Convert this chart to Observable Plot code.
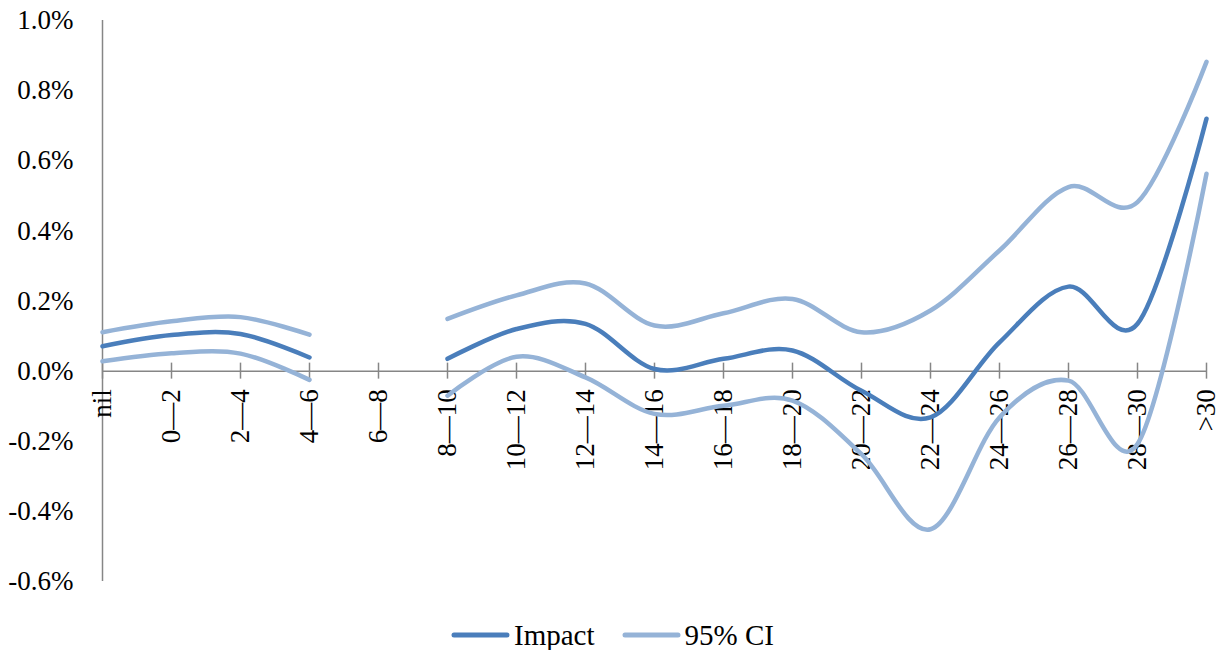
<!DOCTYPE html>
<html>
<head>
<meta charset="utf-8">
<script src="https://cdn.jsdelivr.net/npm/d3@7"></script>
<script src="https://cdn.jsdelivr.net/npm/@observablehq/plot@0.6"></script>
<style>
  html, body { margin: 0; padding: 0; background: #fff; }
  #chart svg { display: block; }
  .legend {
    display: flex; justify-content: center; align-items: center;
    font-family: "Liberation Serif", "Times New Roman", serif;
    font-size: 29px; line-height: 30px; color: #000;
    padding-top: 20px;
  }
  .legend .item { display: flex; align-items: center; }
  .legend .item + .item { margin-left: 27px; }
  .legend svg { margin-right: 4px; }
</style>
</head>
<body>
<div id="chart"></div>
<script>
// Income bands (categories along the x axis)
const categories = ["nil", "0—2", "2—4", "4—6", "6—8", "8—10", "10—12", "12—14", "14—16",
  "16—18", "18—20", "20—22", "22—24", "24—26", "26—28", "28—30", ">30"];

// Estimated impact and its 95% confidence bounds, in percent (null = no estimate)
const impact = [0.071, 0.103, 0.106, 0.039, null, 0.035, 0.120, 0.135, 0.006,
  0.035, 0.059, -0.056, -0.132, 0.082, 0.241, 0.135, 0.720];
const ciUpper = [0.111, 0.142, 0.154, 0.104, null, 0.149, 0.216, 0.250, 0.130,
  0.165, 0.206, 0.111, 0.173, 0.344, 0.525, 0.482, 0.882];
const ciLower = [0.028, 0.051, 0.050, -0.025, null, -0.070, 0.041, -0.018, -0.122,
  -0.099, -0.084, -0.237, -0.451, -0.132, -0.027, -0.208, 0.563];

// Y axis tick values (percent)
const yTicks = [-0.6, -0.4, -0.2, 0.0, 0.2, 0.4, 0.6, 0.8, 1.0];

const impactColor = "#4a7ebb";
const ciColor = "#95b3d7";
const axisColor = "#868686";

const series = (values) => categories.map((c, i) => ({c, v: values[i]}));
const fmt = (d) => d.toFixed(1) + "%";

const lineOpts = (color) => ({
  x: "c", y: "v", stroke: color, strokeWidth: 4.5,
  curve: "cardinal", tension: 0, strokeLinecap: "round", strokeLinejoin: "round"
});

const chart = Plot.plot({
  width: 1225,
  height: 600,
  marginLeft: 102,
  marginRight: 19,
  marginTop: 20,
  marginBottom: 19,
  x: {type: "point", domain: categories, padding: 0, axis: null},
  y: {domain: [-0.6, 1.0], axis: null},
  style: {
    fontFamily: "'Liberation Serif', 'Times New Roman', serif",
    fontSize: "27px",
    color: "#000",
    background: "#fff"
  },
  marks: [
    // vertical axis line
    Plot.ruleX([categories[0]], {x: (d) => d, stroke: axisColor, strokeWidth: 1.5}),
    // horizontal axis at zero
    Plot.ruleY([0], {stroke: axisColor, strokeWidth: 1.5}),
    // tick marks crossing the zero line
    Plot.ruleX(categories, {x: (d) => d, y1: 0, y2: 0, insetTop: -8, insetBottom: -8,
      stroke: axisColor, strokeWidth: 1.5}),
    // y tick labels
    Plot.text(yTicks, {y: (d) => d, text: fmt, frameAnchor: "left", textAnchor: "end",
      dx: -29, fill: "#000"}),
    // rotated category labels under the zero line
    Plot.text(categories, {x: (d) => d, y: 0, text: (d) => d, rotate: -90,
      textAnchor: "end", dy: 18, fill: "#000"}),
    // series
    Plot.line(series(impact), lineOpts(impactColor)),
    Plot.line(series(ciUpper), lineOpts(ciColor)),
    Plot.line(series(ciLower), lineOpts(ciColor))
  ]
});
document.getElementById("chart").append(chart);

// Legend below the chart
const legend = document.createElement("div");
legend.className = "legend";
for (const [label, color] of [["Impact", impactColor], ["95% CI", ciColor]]) {
  const item = document.createElement("div");
  item.className = "item";
  item.innerHTML = `<svg width="59" height="10"><line x1="3" x2="56" y1="5" y2="5" stroke="${color}" stroke-width="5" stroke-linecap="round"/></svg><span>${label}</span>`;
  legend.append(item);
}
document.getElementById("chart").append(legend);
</script>
</body>
</html>
